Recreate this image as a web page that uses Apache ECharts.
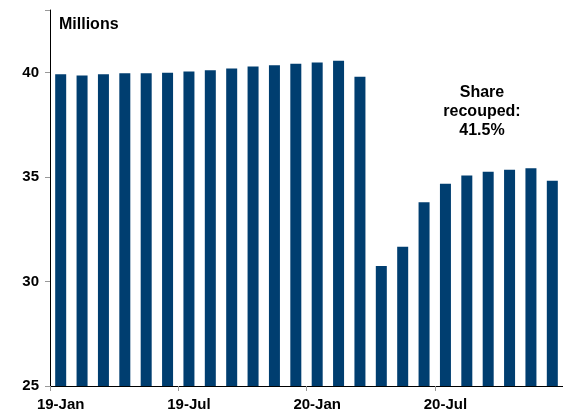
<!DOCTYPE html>
<html><head><meta charset="utf-8">
<script src="https://cdn.jsdelivr.net/npm/echarts@6/dist/echarts.min.js"></script>
<style>html,body{margin:0;padding:0;background:#fff}#c{width:563px;height:412px}</style>
</head><body><div id="c"></div>
<script>
const categories = ['19-Jan','19-Feb','19-Mar','19-Apr','19-May','19-Jun','19-Jul','19-Aug','19-Sep','19-Oct','19-Nov','19-Dec',
  '20-Jan','20-Feb','20-Mar','20-Apr','20-May','20-Jun','20-Jul','20-Aug','20-Sep','20-Oct','20-Nov','20-Dec'];
const values = [39.92,39.87,39.92,39.97,39.97,40.0,40.06,40.11,40.2,40.3,40.35,40.43,
  40.49,40.57,39.8,30.75,31.67,33.8,34.68,35.08,35.26,35.35,35.43,34.83];
const yTicks = [25,30,35,40];
const FONT = 'Liberation Sans, Arial, sans-serif';
const chart = echarts.init(document.getElementById('c'), null, {renderer:'canvas'});
chart.setOption({
  animation:false,
  grid:{left:50, top:10, width:517, height:376},
  xAxis:{type:'category', data:categories,
    axisLine:{lineStyle:{color:'#000', width:1}},
    axisTick:{show:true, interval:5, length:5, lineStyle:{color:'#999'}},
    axisLabel:{interval:5, color:'#000', fontFamily:FONT, fontWeight:'bold', fontSize:15, margin:11}},
  yAxis:{type:'value', min:25, max:43, interval:5,
    splitLine:{show:false},
    axisLine:{show:true, lineStyle:{color:'#000', width:1}},
    axisTick:{show:true, length:5, lineStyle:{color:'#999'}},
    axisLabel:{color:'#000', fontFamily:FONT, fontWeight:'bold', fontSize:15, margin:11,
      formatter:v=> yTicks.includes(v) ? String(v) : ''}},
  series:[{type:'bar', data:values, barWidth:11,
    itemStyle:{color:'#003e70'}}],
  graphic:[
    {type:'text', left:59, top:17, style:{text:'Millions', fill:'#000', font:'bold 16px '+FONT}},
    {type:'text', x:482, y:83, style:{text:'Share\nrecouped:\n41.5%', fill:'#000', font:'bold 16px '+FONT, align:'center', lineHeight:19}}
  ]
});
</script></body></html>
